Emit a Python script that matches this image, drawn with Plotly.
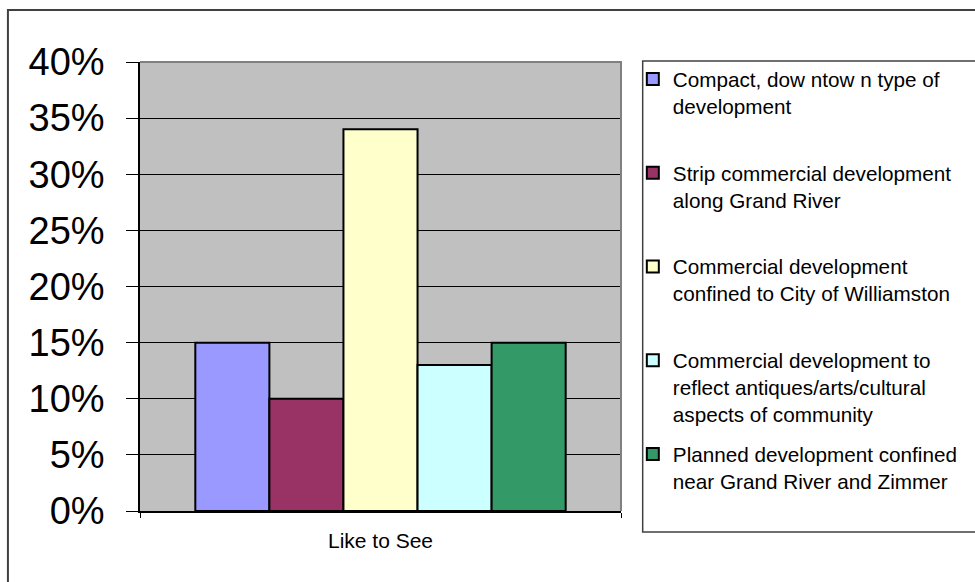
import plotly.graph_objects as go

categories = ["Like to See"]
series_names = [
    "Compact, dow ntow n type of<br>development<br> ",
    "Strip commercial development<br>along Grand River<br> ",
    "Commercial development<br>confined to City of Williamston<br> ",
    "Commercial development to<br>reflect antiques/arts/cultural<br>aspects of community",
    "Planned development confined<br>near Grand River and Zimmer<br> ",
]
series_values = [0.15, 0.10, 0.34, 0.13, 0.15]
series_colors = ["#9999FF", "#993366", "#FFFFCC", "#CCFFFF", "#339966"]
y_tick_values = [0, 0.05, 0.10, 0.15, 0.20, 0.25, 0.30, 0.35, 0.40]
y_tick_labels = ["0%", "5%", "10%", "15%", "20%", "25%", "30%", "35%", "40%"]

FONT = "Liberation Sans, Arial, sans-serif"

fig = go.Figure()
for name, val, col in zip(series_names, series_values, series_colors):
    fig.add_trace(go.Bar(
        x=categories, y=[val], name=name, legendgroup=name,
        marker=dict(color=col, line=dict(color="#000000", width=2)),
    ))

W, H = 975, 582
L, R, T, B = 140, 347, 62, 71
pw, ph = W - L - R, H - T - B

def px(x):
    return (x - L) / pw

def py(y):
    return (H - B - y) / ph

shapes = [
    # outer chart border
    dict(type="rect", xref="paper", yref="paper", x0=px(6), x1=px(990), y0=py(600), y1=py(10),
         line=dict(color="#404040", width=2), layer="below"),
    # legend box
    dict(type="rect", xref="paper", yref="paper", x0=px(650), x1=px(990), y0=py(532), y1=py(61),
         line=dict(color="#404040", width=1.5), layer="below"),
    # plot area top/right border
    dict(type="path", xref="paper", yref="paper",
         path="M 0 1 L 1 1 L 1 0", line=dict(color="#808080", width=2), layer="above"),
]

fig.update_layout(
    width=W, height=H,
    margin=dict(l=L, r=R, t=T, b=B, pad=0),
    paper_bgcolor="white",
    plot_bgcolor="#C0C0C0",
    barmode="group",
    bargap=0.23,
    bargroupgap=0,
    font=dict(family=FONT, color="#000000"),
    showlegend=True,
    legend=dict(
        x=px(640), xanchor="left", y=py(59), yanchor="top",
        bgcolor="rgba(0,0,0,0)", borderwidth=0,
        font=dict(family=FONT, size=20.7, color="#000000"),
        valign="top", tracegroupgap=10, traceorder="grouped",
        maxheight=575,
    ),
    shapes=shapes,
    xaxis=dict(
        showgrid=False, showline=True, linecolor="#000000", linewidth=1.5,
        ticks="outside", tickson="boundaries", ticklen=5, tickcolor="#000000",
        tickfont=dict(family=FONT, size=21, color="#000000"),
        ticklabelstandoff=10,
        fixedrange=True,
    ),
    yaxis=dict(
        range=[0, 0.40], tickvals=y_tick_values, ticktext=y_tick_labels,
        showgrid=True, gridcolor="#000000", gridwidth=1,
        showline=True, linecolor="#000000", linewidth=1.5,
        ticks="outside", ticklen=12, tickcolor="#000000",
        tickfont=dict(family=FONT, size=38, color="#000000"),
        ticklabelstandoff=14,
        zeroline=False,
        fixedrange=True,
    ),
)

fig.write_html(
    "out.html",
    config={"displayModeBar": False},
    post_script="document.body.style.margin='0';document.body.style.overflow='hidden';",
)
